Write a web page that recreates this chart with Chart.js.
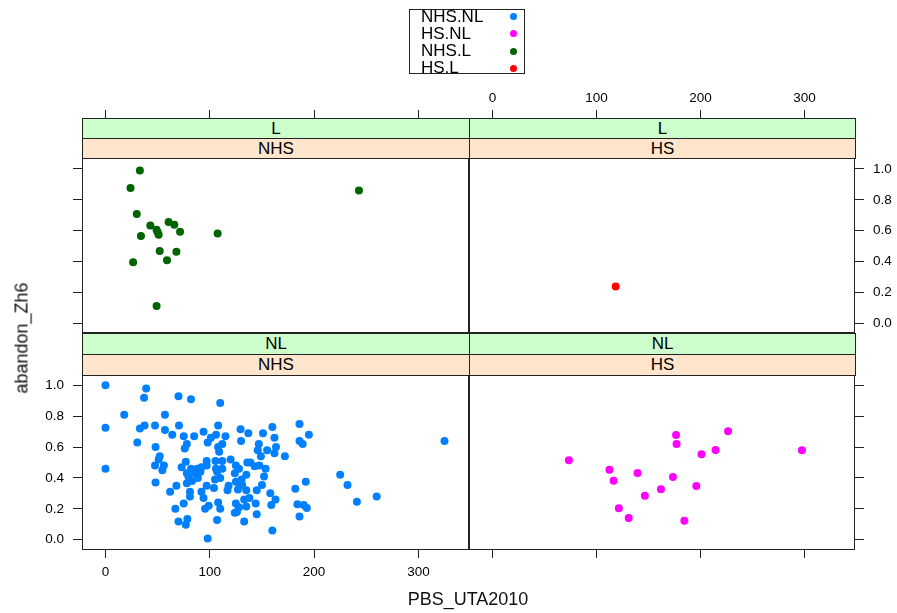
<!DOCTYPE html>
<html>
<head>
<meta charset="utf-8">
<script src="https://cdn.jsdelivr.net/npm/chart.js@4"></script>
<style>
  body { margin: 0; background: #fff; font-family: "Liberation Sans", Arial, sans-serif; }
  #wrap { position: relative; width: 897px; height: 613px; overflow: hidden; }
  canvas { position: absolute; left: 0; top: 0; }
  .strip { position: absolute; box-sizing: border-box; border: 1px solid #222; text-align: center;
           font-size: 17px; line-height: 19px; color: #000; z-index: 5; }
  .green { background: #ccffcc; }
  .peach { background: #ffe5cc; }
  .title { position: absolute; font-size: 18px; color: #111; white-space: nowrap; z-index: 5; }
  #legend { position: absolute; left: 409px; top: 9px; width: 116px; height: 65px; box-sizing: border-box;
            border: 1px solid #222; z-index: 5; }
  .lrow { position: absolute; left: 11px; font-size: 17px; line-height: 17px; color: #000; }
  .ldot { position: absolute; left: 100px; width: 7px; height: 7px; border-radius: 50%; }
</style>
</head>
<body>
<div id="wrap">
  <canvas id="pTL" width="897" height="613"></canvas>
  <canvas id="pTR" width="897" height="613"></canvas>
  <canvas id="pBL" width="897" height="613"></canvas>
  <canvas id="pBR" width="897" height="613"></canvas>

  <div class="strip green" style="left:82px;top:118px;width:388px;height:21px">L</div>
  <div class="strip peach" style="left:82px;top:138px;width:388px;height:21px">NHS</div>
  <div class="strip green" style="left:469px;top:118px;width:387px;height:21px">L</div>
  <div class="strip peach" style="left:469px;top:138px;width:387px;height:21px">HS</div>
  <div class="strip green" style="left:82px;top:333px;width:388px;height:22px">NL</div>
  <div class="strip peach" style="left:82px;top:354px;width:388px;height:22px">NHS</div>
  <div class="strip green" style="left:469px;top:333px;width:387px;height:22px">NL</div>
  <div class="strip peach" style="left:469px;top:354px;width:387px;height:22px">HS</div>

  <div class="title" style="left:468px;top:589px;transform:translateX(-50%)">PBS_UTA2010</div>
  <div class="title" style="left:22px;top:338px;transform:translate(-50%,-50%) rotate(-90deg)">abandon_Zh6</div>

  <div id="legend"></div>
</div>

<script>
// ---------------- DATA ----------------
const xTicks = [0, 100, 200, 300];
const yTicks = [0, 0.2, 0.4, 0.6, 0.8, 1.0];

const seriesNames = ["NHS.NL", "HS.NL", "NHS.L", "HS.L"];
const seriesColors = ["#0080ff", "#ff00ff", "#006400", "#ff0000"];

// NHS.NL (bottom left panel)
const nhsNL_x = [0,39,37,70,82,110,18,57,0,33,37.5,47.5,57,70.5,64,75,85,94,108,106,101,98,115,129.5,137,151,160,186,195,162,
  130,30.5,48,78,76,108,112,109,147,146,155,163.5,162,149,172,186,189,325,52,51,47.5,56,54.5,0,48,73,82,78,79.5,86,
  88.5,92,97,105.5,112,120,97,106,107,125,128,124,136,139,143,147.5,153.5,135,152,130.5,128,110,105,97,78,68,62,81,81,92,
  94,104,118,117,127,135,145,150,158,163,182,192,225,232,241,260,67,75,95.5,99,108,110,125,128,126,124,135,138,133,144,
  159,184,190,193,186,145,70,77,78.5,107,133,160,98,83,131,125,91,112,77,88];
const nhsNL_y = [1.0,0.98,0.92,0.93,0.91,0.885,0.81,0.81,0.725,0.72,0.74,0.74,0.71,0.74,0.68,0.67,0.67,0.70,0.74,0.68,
  0.66,0.63,0.67,0.715,0.69,0.69,0.73,0.75,0.68,0.66,0.64,0.63,0.60,0.62,0.59,0.60,0.62,0.57,0.62,0.58,
  0.58,0.60,0.56,0.54,0.54,0.64,0.62,0.64,0.54,0.52,0.48,0.48,0.45,0.46,0.37,0.47,0.46,0.43,0.41,0.43,
  0.40,0.47,0.51,0.51,0.51,0.52,0.48,0.46,0.44,0.48,0.46,0.43,0.50,0.50,0.475,0.48,0.46,0.42,0.41,0.39,
  0.37,0.40,0.39,0.35,0.365,0.35,0.31,0.31,0.28,0.31,0.27,0.335,0.35,0.32,0.325,0.32,0.32,0.355,0.30,0.26,
  0.33,0.375,0.42,0.355,0.245,0.28,0.20,0.235,0.20,0.22,0.24,0.20,0.235,0.21,0.18,0.175,0.215,0.27,0.26,0.235,
  0.225,0.23,0.225,0.205,0.15,0.165,0.117,0.097,0.134,0.128,0.117,0.059,0.007,0.38,0.354,0.376,0.44,0.46,0.505,0.46];

// HS.NL (bottom right panel)
const hsNL_x = [73.5,112.5,116.5,139.5,173.5,176.5,177,201,214.5,226.5,297.5,162,146.5,196,121.5,131,184.5];
const hsNL_y = [0.514,0.453,0.382,0.432,0.406,0.678,0.62,0.553,0.581,0.702,0.579,0.326,0.285,0.348,0.203,0.141,0.123];

// NHS.L (top left panel)
const nhsL_x = [33,24,243,30,43,60.5,66,49,51,50,71.5,34,107.5,52,68,59,26.5,49];
const nhsL_y = [0.99,0.877,0.861,0.708,0.634,0.656,0.638,0.606,0.573,0.59,0.593,0.565,0.582,0.469,0.463,0.409,0.396,0.112];

// HS.L (top right panel)
const hsL_x = [118.5];
const hsL_y = [0.238];

// ---------------- HELPERS ----------------
Chart.defaults.font.family = '"Liberation Sans", Arial, sans-serif';

const zip = (xs, ys) => xs.map((x, i) => ({ x: x, y: ys[i] }));

const frame = {
  id: 'frame',
  afterDraw(chart) {
    const a = chart.chartArea, ctx = chart.ctx;
    ctx.save();
    ctx.strokeStyle = '#222';
    ctx.lineWidth = 1;
    ctx.strokeRect(a.left + 0.5, a.top + 0.5, a.right - a.left - 1, a.bottom - a.top - 1);
    ctx.restore();
  }
};

function noPad(s) { s.paddingLeft = 0; s.paddingRight = 0; s.paddingTop = 0; s.paddingBottom = 0; }

function makePanel(id, pts, color, o) {
  const isTop = o.row === 'top', isLeft = o.col === 'left';
  new Chart(document.getElementById(id), {
    type: 'scatter',
    data: { datasets: [{ data: pts, backgroundColor: color, borderWidth: 0, pointRadius: 4, pointHoverRadius: 4 }] },
    options: {
      responsive: false,
      animation: false,
      layout: { padding: {
        left: isLeft ? 0 : 469, right: isLeft ? 897 - 469 : 0,
        top: isTop ? 0 : 375, bottom: isTop ? 613 - 333 : 0 } },
      plugins: { legend: { display: false }, tooltip: { enabled: false } },
      scales: {
        x: {
          type: 'linear', position: isTop ? 'top' : 'bottom', min: -22.5, max: 348.5,
          afterBuildTicks: s => { s.ticks = xTicks.map(v => ({ value: v })); },
          afterFit: s => { s.height = isTop ? 158 : 63; noPad(s); },
          grid: { drawOnChartArea: false, drawTicks: true, tickLength: isTop ? 48 : 8, color: '#222' },
          border: { display: false },
          ticks: { autoSkip: false, maxRotation: 0, color: '#000', font: { size: 13.5 },
                   padding: isTop ? 4 : 6, callback: v => o.xLabels ? String(v) : '' }
        },
        y: {
          type: 'linear', position: isLeft ? 'left' : 'right',
          min: isTop ? -0.063 : -0.067, max: isTop ? 1.071 : 1.067,
          afterBuildTicks: s => { s.ticks = yTicks.map(v => ({ value: v })); },
          afterFit: s => { s.width = isLeft ? 82 : 42; noPad(s); },
          grid: { drawOnChartArea: false, drawTicks: true, tickLength: 9, color: '#222' },
          border: { display: false },
          ticks: { autoSkip: false, color: '#000', font: { size: 13.5 }, padding: 9,
                   callback: v => o.yLabels ? v.toFixed(1) : '' }
        }
      }
    },
    plugins: [frame]
  });
}

// ---------------- PANELS ----------------
makePanel('pTL', zip(nhsL_x, nhsL_y), seriesColors[2], { row: 'top', col: 'left', xLabels: false, yLabels: false });
makePanel('pTR', zip(hsL_x, hsL_y), seriesColors[3], { row: 'top', col: 'right', xLabels: true, yLabels: true });
makePanel('pBL', zip(nhsNL_x, nhsNL_y), seriesColors[0], { row: 'bottom', col: 'left', xLabels: true, yLabels: true });
makePanel('pBR', zip(hsNL_x, hsNL_y), seriesColors[1], { row: 'bottom', col: 'right', xLabels: false, yLabels: false });

// ---------------- LEGEND ----------------
const legend = document.getElementById('legend');
seriesNames.forEach((name, i) => {
  const top = -2.5 + i * 17.3;
  const row = document.createElement('div');
  row.className = 'lrow';
  row.style.top = top + 'px';
  row.textContent = name;
  legend.appendChild(row);
  const dot = document.createElement('div');
  dot.className = 'ldot';
  dot.style.top = (top + 5.5) + 'px';
  dot.style.background = seriesColors[i];
  legend.appendChild(dot);
});
</script>
</body>
</html>
